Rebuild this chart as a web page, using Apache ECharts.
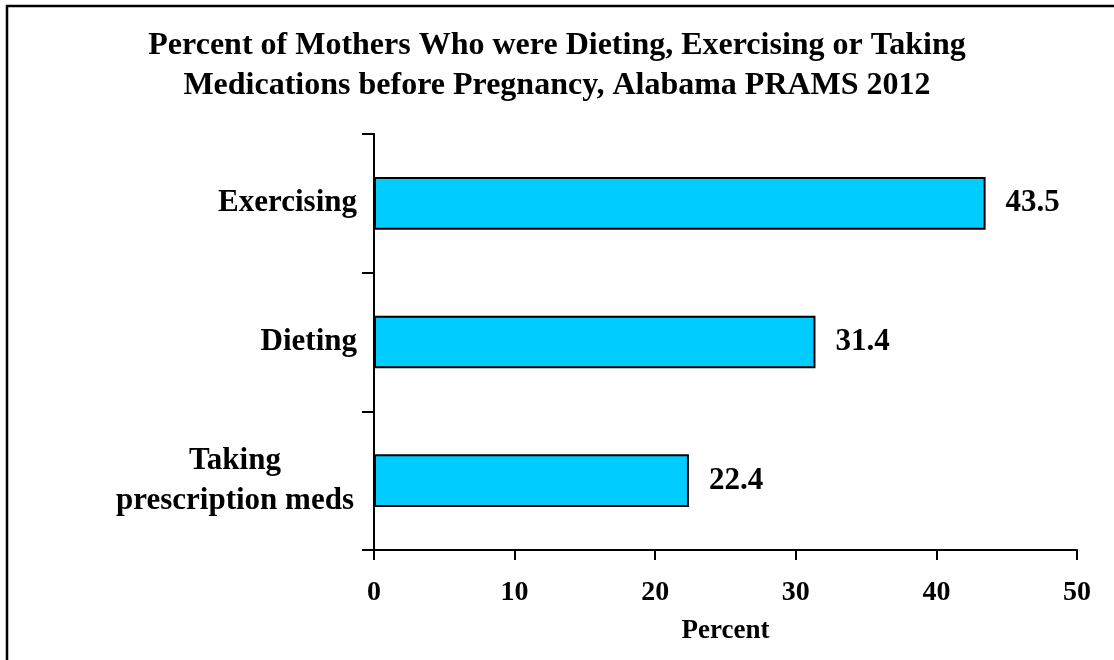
<!DOCTYPE html>
<html>
<head>
<meta charset="utf-8">
<script src="https://cdn.jsdelivr.net/npm/echarts@6/dist/echarts.min.js"></script>
<style>
html,body{margin:0;padding:0;background:#fff;}
#chart{width:1114px;height:660px;}
</style>
</head>
<body>
<div id="chart"></div>
<script>
const categories = ['Taking\nprescription meds', 'Dieting', 'Exercising'];
const values = [22.4, 31.4, 43.5];
const xTicks = [0, 10, 20, 30, 40, 50];
const titleText = 'Percent of Mothers Who were Dieting, Exercising or Taking\nMedications before Pregnancy, Alabama PRAMS 2012';

const FONT = "'Liberation Serif', 'Times New Roman', serif";
const chart = echarts.init(document.getElementById('chart'), null, {renderer: 'canvas'});

chart.setOption({
  animation: false,
  backgroundColor: '#fff',
  graphic: [{
    type: 'rect',
    shape: {x: 7, y: 6, width: 1200, height: 700},
    style: {fill: 'none', stroke: '#000', lineWidth: 2.5},
    silent: true
  }],
  title: {
    text: titleText,
    left: 'center',
    top: 21,
    textStyle: {
      fontFamily: FONT, fontWeight: 'bold', fontSize: 32, lineHeight: 40, color: '#000', align: 'center'
    }
  },
  grid: {left: 374, right: 37, top: 134, bottom: 110, containLabel: false},
  xAxis: {
    type: 'value',
    min: xTicks[0],
    max: xTicks[xTicks.length - 1],
    interval: 10,
    splitLine: {show: false},
    axisLine: {show: true, lineStyle: {color: '#000', width: 2}},
    axisTick: {show: true, length: 10, lineStyle: {color: '#000', width: 2}},
    axisLabel: {fontFamily: FONT, fontWeight: 'bold', fontSize: 28, color: '#000', margin: 29},
    name: 'Percent',
    nameLocation: 'middle',
    nameGap: 68,
    nameTextStyle: {fontFamily: FONT, fontWeight: 'bold', fontSize: 27, color: '#000'}
  },
  yAxis: {
    type: 'category',
    data: categories,
    boundaryGap: true,
    axisLine: {show: true, lineStyle: {color: '#000', width: 2}},
    axisTick: {show: true, length: 12, alignWithLabel: false, lineStyle: {color: '#000', width: 2}},
    axisLabel: {
      margin: 17,
      formatter: function (v) {
        const lines = v.split('\n');
        if (lines.length === 1) return '{r|' + v + '}';
        return lines.map(function (s) { return '{c|' + s + '}'; }).join('\n');
      },
      rich: {
        c: {fontFamily: FONT, fontWeight: 'bold', fontSize: 31, color: '#000', width: 244, align: 'center', lineHeight: 40},
        r: {fontFamily: FONT, fontWeight: 'bold', fontSize: 31, color: '#000', lineHeight: 40}
      }
    }
  },
  series: [{
    type: 'bar',
    data: values,
    barWidth: '38%',
    itemStyle: {color: '#00CCFF', borderColor: '#000', borderWidth: 2},
    label: {
      show: true,
      position: 'right',
      distance: 20,
      formatter: function (p) { return p.value.toFixed(1); },
      fontFamily: FONT, fontWeight: 'bold', fontSize: 31, color: '#000'
    }
  }]
});
</script>
</body>
</html>
